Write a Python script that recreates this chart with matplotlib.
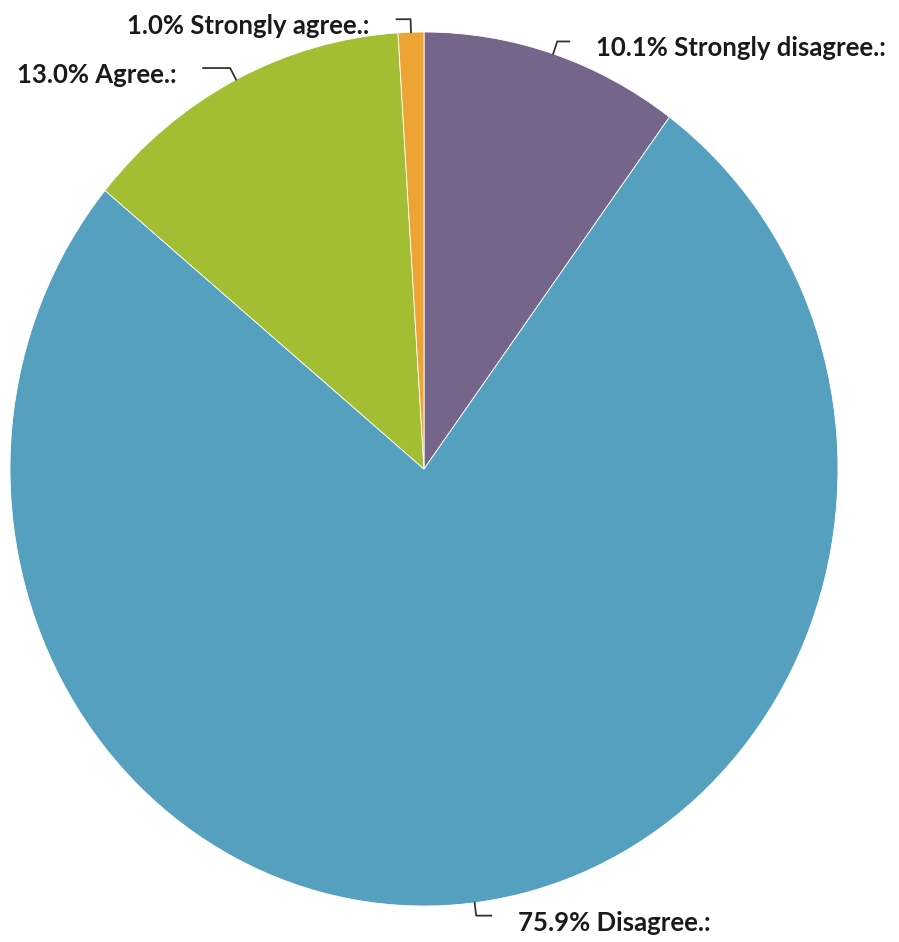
import numpy as np
import matplotlib.pyplot as plt


# data
labels = ["Strongly disagree.:", "Disagree.:", "Agree.:", "Strongly agree.:"]
shares = [10.1, 75.9, 13.0, 1.0]
colors = ["#76658b", "#55a0bf", "#a3be33", "#eda435"]

# horizontal leader length per label, in pixels
leader_len = [12, 15, 27, 14]


# figure setup (pie is slightly stretched vertically, like the source)
fig = plt.figure(figsize=(8.99, 9.42), dpi=100)
ax = fig.add_axes([10 / 899, 36 / 942, 828 / 899, 874 / 942])

wedges, _ = ax.pie(shares, colors=colors, startangle=90, counterclock=False,
                   radius=1, wedgeprops=dict(edgecolor="white", linewidth=0.6))
ax.set_aspect("auto")
ax.set_xlim(-1, 1)
ax.set_ylim(-1, 1)
ax.axis("off")

# pixels per data unit
sx = 828 / 2
sy = 874 / 2

for w, lab, val, ll in zip(wedges, labels, shares, leader_len):
    theta = np.deg2rad((w.theta1 + w.theta2) / 2)
    c, s = np.cos(theta), np.sin(theta)
    side = 1 if c >= 0 else -1
    x0, y0 = c, s
    x1, y1 = x0 + 13 * c / sx, y0 + 13 * s / sy
    x2 = x1 + side * ll / sx
    ax.plot([x0, x1, x2], [y0, y1, y1], color="#333333", lw=1.3,
            clip_on=False, solid_joinstyle="round")
    ax.text(x2 + side * 27 / sx, y1 - 7 / sy, "{:.1f}% {}".format(val, lab),
            ha="left" if side > 0 else "right", va="center",
            fontsize=18.5, family="Lato", weight="bold", color="#1a1a1a",
            clip_on=False)

fig.savefig("out.png", dpi=100, facecolor="white")
